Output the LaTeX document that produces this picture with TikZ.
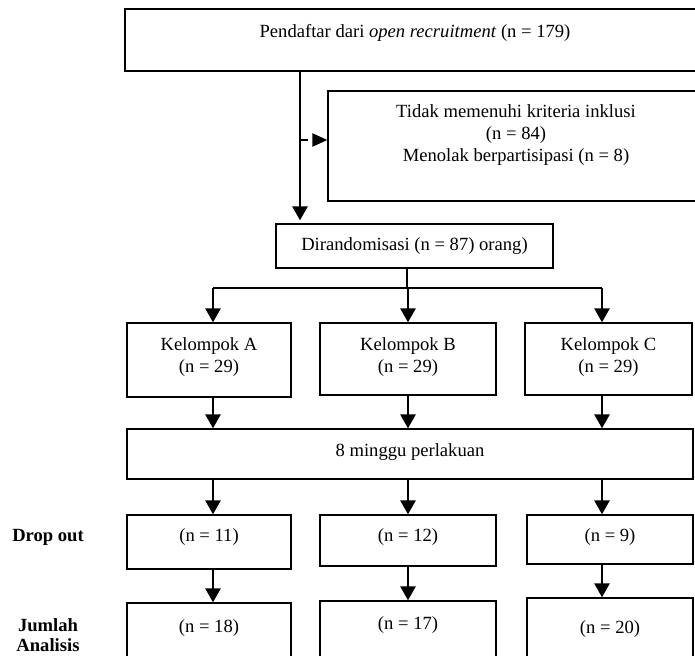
\documentclass[tikz,border=0pt]{standalone}
\usepackage{fontspec}
\setmainfont{Liberation Serif}
\usetikzlibrary{arrows.meta}
\begin{document}
\begin{tikzpicture}[x=1pt,y=-1pt,
  every node/.style={font=\fontsize{18.6}{22}\selectfont},
  box/.style={draw, line width=1.3pt, inner sep=0pt, rectangle},
  txt/.style={align=center, inner sep=0pt},
  arr/.style={line width=2.6pt, -{Triangle[length=14pt,width=15pt]}},
  plain/.style={line width=2.6pt},
  side/.style={font=\bfseries\fontsize{18.6}{20}\selectfont, align=center, inner sep=0pt}]
\useasboundingbox (0,0) rectangle (695,655);
\clip (0,0) rectangle (695,655);
% boxes: centre, width, height
\node[box, minimum width=580pt, minimum height=62pt] (top) at (415,40) {};
\node[txt] (topt) at (415,33) {Pendaftar dari \textit{open recruitment} (n = 179)};
\node[box, minimum width=376pt, minimum height=110pt] (excl) at (516,146) {};
\node[txt] (exclt) at (516,135) {Tidak memenuhi kriteria inklusi\\(n = 84)\\Menolak berpartisipasi (n = 8)};
\node[box, minimum width=277pt, minimum height=44pt] (rand) at (414.5,246) {Dirandomisasi (n = 87) orang)};
\node[box, minimum width=164pt, minimum height=74pt] (kA) at (209,360) {};
\node[txt] (kAt) at (209,357) {Kelompok A\\(n = 29)};
\node[box, minimum width=176pt, minimum height=72pt] (kB) at (408,359) {};
\node[txt] (kBt) at (408,357) {Kelompok B\\(n = 29)};
\node[box, minimum width=167pt, minimum height=72pt] (kC) at (608.5,359) {};
\node[txt] (kCt) at (608.5,357) {Kelompok C\\(n = 29)};
\node[box, minimum width=566pt, minimum height=50pt] (treat) at (410,454) {};
\node[txt] (treatt) at (410,452) {8 minggu perlakuan};
\node[box, minimum width=164pt, minimum height=54pt] (dA) at (209,542) {};
\node[txt] (dAt) at (209,537) {(n = 11)};
\node[box, minimum width=176pt, minimum height=51pt] (dB) at (408,540.5) {};
\node[txt] (dBt) at (408,537) {(n = 12)};
\node[box, minimum width=166pt, minimum height=49pt] (dC) at (610,539.5) {};
\node[txt] (dCt) at (610,537) {(n = 9)};
\node[box, minimum width=164pt, minimum height=67pt] (aA) at (209,636.5) {};
\node[txt] (aAt) at (209,628) {(n = 18)};
\node[box, minimum width=176pt, minimum height=69pt] (aB) at (408,635.5) {};
\node[txt] (aBt) at (408,625) {(n = 17)};
\node[box, minimum width=166pt, minimum height=72pt] (aC) at (610,634) {};
\node[txt] (aCt) at (610,629) {(n = 20)};
\node[side] (lbd) at (48,537) {Drop out};
\node[side] (lbj) at (48,635) {Jumlah\\Analisis};
% connector columns
\coordinate (m) at (300,0);
\coordinate (dx) at (300,140);
\coordinate (br) at (407,288);
\coordinate (cA) at (213,0);
\coordinate (cB) at (408,0);
\coordinate (cC) at (602,0);
% main flow
\draw[arr] (top.south -| m) -- ([yshift=3pt]rand.north -| m);
\draw[line width=2.4pt, dash pattern=on 8pt off 5pt, -{Triangle[length=15pt,width=13pt]}] (dx) -- (dx -| excl.west);
\draw[plain] (rand.south -| br) -- (br);
\draw[plain] (br -| cA) -- (br -| cC);
\draw[arr] (br -| cA) -- (kA.north -| cA);
\draw[arr] (br -| cB) -- (kB.north -| cB);
\draw[arr] (br -| cC) -- (kC.north -| cC);
\draw[arr] (kA.south -| cA) -- (treat.north -| cA);
\draw[arr] (kB.south -| cB) -- (treat.north -| cB);
\draw[arr] (kC.south -| cC) -- (treat.north -| cC);
\draw[arr] (treat.south -| cA) -- (dA.north -| cA);
\draw[arr] (treat.south -| cB) -- (dB.north -| cB);
\draw[arr] (treat.south -| cC) -- (dC.north -| cC);
\draw[arr] (dA.south -| cA) -- (aA.north -| cA);
\draw[arr] (dB.south -| cB) -- (aB.north -| cB);
\draw[arr] (dC.south -| cC) -- (aC.north -| cC);
\end{tikzpicture}
\end{document}
